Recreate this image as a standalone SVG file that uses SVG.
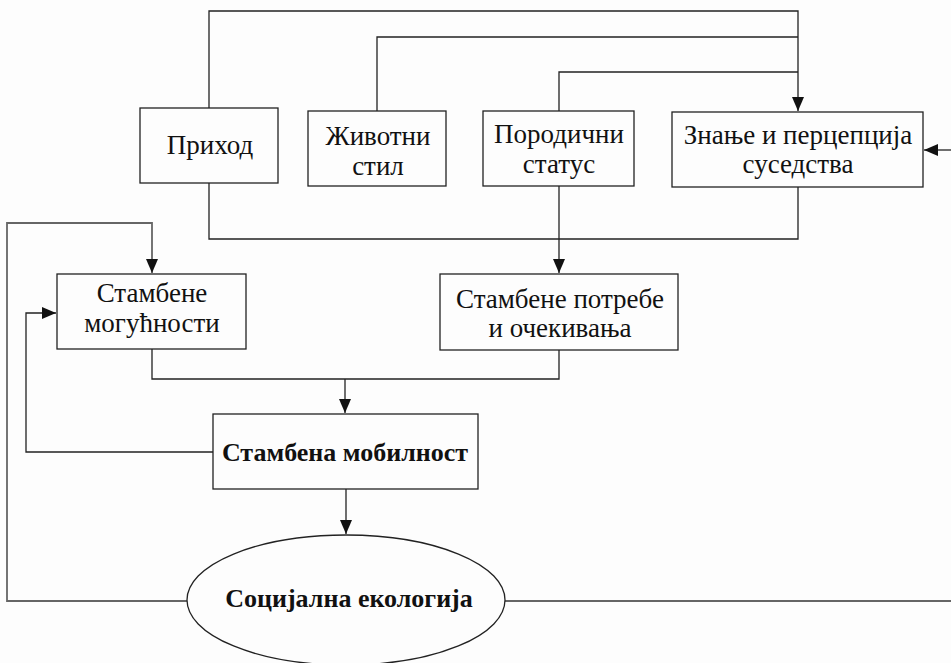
<svg xmlns="http://www.w3.org/2000/svg" width="951" height="663" viewBox="0 0 951 663">
<defs>
<marker id="ah" markerWidth="14" markerHeight="12" refX="14" refY="6" orient="auto" markerUnits="userSpaceOnUse">
<path d="M0,0 L14,6 L0,12 Z" fill="#111"/>
</marker>
<style>
.box{fill:#fdfdfd;stroke:#222;stroke-width:1.3}
.ln{fill:none;stroke:#222;stroke-width:1.3}
.ln2{fill:none;stroke:#666;stroke-width:1.8}
.t{font-family:"Liberation Serif","Times New Roman",serif;font-size:27px;fill:#111;text-anchor:middle}
.b{font-weight:bold;font-size:26px}
</style>
</defs>
<rect width="951" height="663" fill="#fdfdfd"/>
<g id="connectors">
<path class="ln" d="M209,108 V11 H798 V111" marker-end="url(#ah)"/>
<path class="ln" d="M377,111 V37 H798"/>
<path class="ln" d="M559,111 V72 H798"/>
<path class="ln" d="M209,183 V239 H798 V187"/>
<path class="ln" d="M559,186 V273" marker-end="url(#ah)"/>
<path class="ln" d="M152,349 V379 H559 V350"/>
<path class="ln" d="M345,379 V413" marker-end="url(#ah)"/>
<path class="ln" d="M213,452 H26 V313 H56" marker-end="url(#ah)"/>
<path class="ln" d="M346,489 V534" marker-end="url(#ah)"/>
<path class="ln2" d="M187,601 H7 V223 H152 V273" marker-end="url(#ah)"/>
<path class="ln2" d="M505,601 H951"/>
<path class="ln" d="M951,150 H924" marker-end="url(#ah)"/>
</g>
<g id="prihod">
<rect class="box" x="140" y="108" width="138" height="75"/>
<text class="t" x="210" y="154">Приход</text>
</g>
<g id="zivotni-stil">
<rect class="box" x="308" y="111" width="138" height="75"/>
<text class="t" x="378" y="145">Животни</text>
<text class="t" x="378" y="175">стил</text>
</g>
<g id="porodicni-status">
<rect class="box" x="483" y="111" width="151" height="75"/>
<text class="t" x="559" y="143">Породични</text>
<text class="t" x="559" y="173">статус</text>
</g>
<g id="znanje">
<rect class="box" x="672" y="112" width="251" height="75"/>
<text class="t" x="798" y="144">Знање и перцепција</text>
<text class="t" x="798" y="173">суседства</text>
</g>
<g id="mogucnosti">
<rect class="box" x="57" y="274" width="189" height="75"/>
<text class="t" x="152" y="302">Стамбене</text>
<text class="t" x="152" y="332">могућности</text>
</g>
<g id="potrebe">
<rect class="box" x="440" y="274" width="238" height="76"/>
<text class="t" x="560" y="308">Стамбене потребе</text>
<text class="t" x="560" y="337">и очекивања</text>
</g>
<g id="mobilnost">
<rect class="box" x="213" y="414" width="265" height="75"/>
<text class="t b" x="345" y="461">Стамбена мобилност</text>
</g>
<g id="ekologija">
<ellipse cx="346" cy="600" rx="159" ry="65" fill="#fdfdfd" stroke="#222" stroke-width="1.3"/>
<text class="t b" x="349" y="607">Социјална екологија</text>
</g>
</svg>
